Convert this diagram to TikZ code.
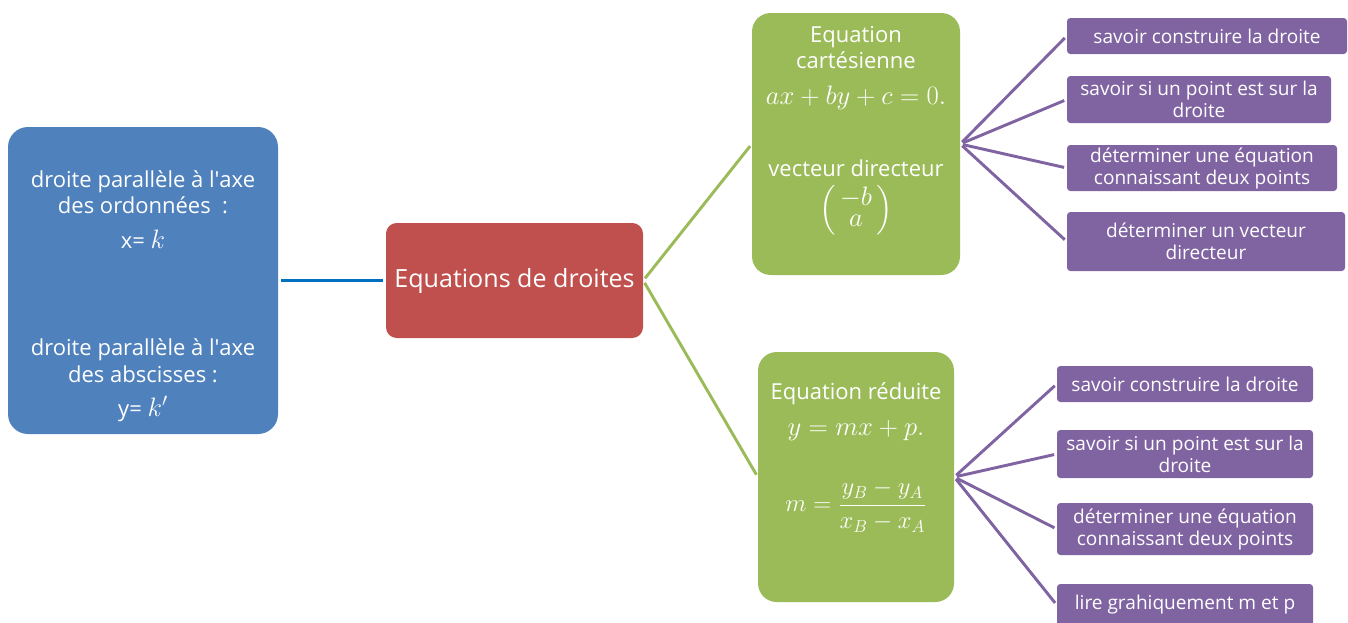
\RequirePackage{fix-cm}
\documentclass[tikz,border=0pt]{standalone}
\usepackage{amsmath}
\usepackage{fontspec}
\setmainfont{Open Sans}
\usetikzlibrary{positioning}
\definecolor{sideblue}{HTML}{4F81BD}
\definecolor{topicred}{HTML}{C0504D}
\definecolor{branchgreen}{HTML}{9BBB59}
\definecolor{skillpurple}{HTML}{8064A2}
\definecolor{linkblue}{HTML}{0070C0}
\newcommand\eqnmath[2][20]{{\fontsize{#1}{22}\selectfont$#2$}}

\begin{document}
\begin{tikzpicture}[x=0.75pt, y=-0.75pt,
    every node/.style={text=white, align=center, inner sep=0pt},
    side/.style={fill=sideblue, rounded corners=15pt, font=\fontsize{16.5}{20}\selectfont},
    topic/.style={fill=topicred, rounded corners=8pt, font=\fontsize{18.8}{22}\selectfont},
    branch/.style={fill=branchgreen, rounded corners=14pt, font=\fontsize{16.5}{19.5}\selectfont},
    skill/.style={fill=skillpurple, rounded corners=2.5pt, font=\fontsize{14.3}{16.5}\selectfont},
    link/.style={line width=2.2pt, shorten <=2pt, shorten >=2pt}]
  \clip (0,0) rectangle (1348,622);
  % centre and left block
  \node[side, minimum width=202.5pt, minimum height=230.25pt] (axes) at (143,280.5) {\mbox{}\\[16pt]droite parallèle à l\textquotesingle axe\\des ordonnées~~:\\[6pt]x= \eqnmath{k}\\[60.5pt]droite parallèle à l\textquotesingle axe\\des abscisses :\\[5.5pt]y= \eqnmath{k'}};
  \node[topic, minimum width=192.75pt, minimum height=86.25pt] (main) at (514.5,280.5) {Equations de droites};
  % the two kinds of equation
  \node[branch, minimum width=156pt, minimum height=196.5pt] (cart) at (856,144) {Equation\\cartésienne\\[7.5pt]\eqnmath{ax+by+c=0.}\\[34.5pt]vecteur directeur\\[4.5pt]\eqnmath{\left(\begin{array}{@{\,}c@{\,}}-b\\[-6pt]a\end{array}\right)}\\[14pt]\mbox{}};
  \node[branch, minimum width=147pt, minimum height=187.5pt] (reduced) at (856,477) {Equation réduite\\[7pt]\eqnmath{y=mx+p.}\\[29pt]\eqnmath[18.5]{m=\dfrac{y_B-y_A}{x_B-x_A}}\\[25pt]\mbox{}};
  % what to know, cartesian
  \node[skill, minimum width=210pt, minimum height=27pt] (cart1) at (1207,36) {savoir construire la droite};
  \node[skill, minimum width=198pt, minimum height=35.25pt] (cart2) at (1199,99.5) {savoir si un point est sur la\\droite};
  \node[skill, minimum width=202.5pt, minimum height=34.5pt] (cart3) at (1202,168) {déterminer une équation\\connaissant deux points};
  \node[skill, minimum width=208.5pt, minimum height=44.25pt] (cart4) at (1206,241.5) {déterminer un vecteur\\directeur};
  % what to know, reduced
  \node[skill, minimum width=192pt, minimum height=27pt] (reduced1) at (1185,384) {savoir construire la droite};
  \node[skill, minimum width=192pt, minimum height=36pt] (reduced2) at (1185,454) {savoir si un point est sur la\\droite};
  \node[skill, minimum width=192pt, minimum height=39pt] (reduced3) at (1185,529) {déterminer une équation\\connaissant deux points};
  \node[skill, minimum width=192pt, minimum height=31.5pt] (reduced4) at (1185,605) {lire grahiquement m et p};
  \draw[link, linkblue] (axes) -- (main);
  \draw[link, branchgreen] (main.east) -- (cart.west);
  \draw[link, branchgreen] (main.east) -- (reduced.west);
  \draw[link, skillpurple] (cart.east) -- (cart1.west);
  \draw[link, skillpurple] (cart.east) -- (cart2.west);
  \draw[link, skillpurple] (cart.east) -- (cart3.west);
  \draw[link, skillpurple] (cart.east) -- (cart4.west);
  \draw[link, skillpurple] (reduced.east) -- (reduced1.west);
  \draw[link, skillpurple] (reduced.east) -- (reduced2.west);
  \draw[link, skillpurple] (reduced.east) -- (reduced3.west);
  \draw[link, skillpurple] (reduced.east) -- (reduced4.west);
\end{tikzpicture}
\end{document}
